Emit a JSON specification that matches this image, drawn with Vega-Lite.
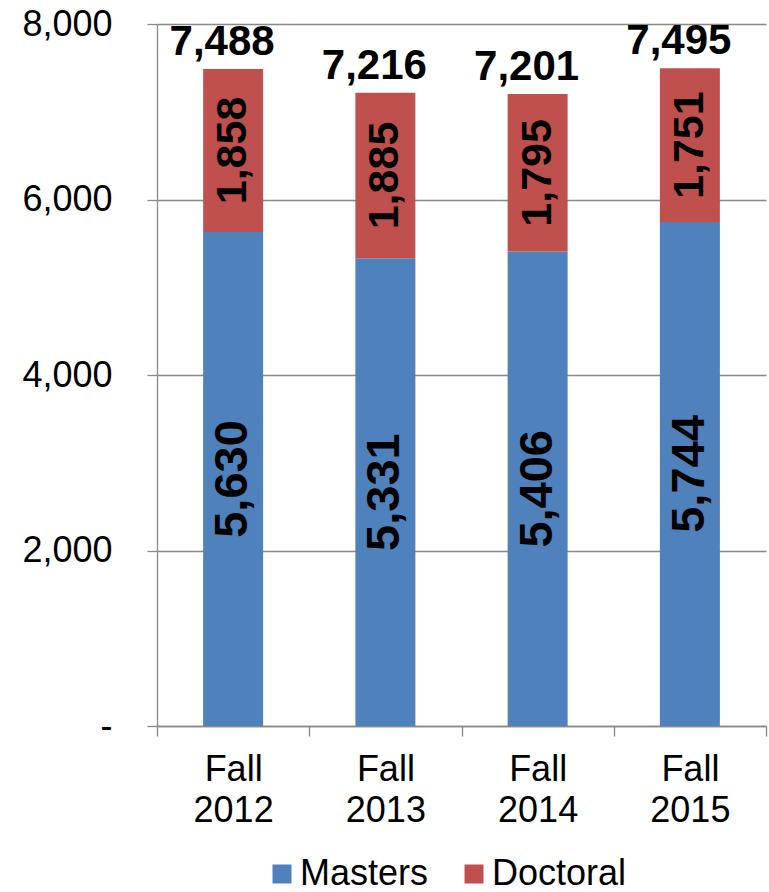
{
  "$schema": "https://vega.github.io/schema/vega-lite/v6.json",
  "width": 609,
  "height": 702,
  "autosize": {"type": "none"},
  "padding": {"left": 157, "top": 24, "right": 3, "bottom": 166},
  "config": {
    "view": {"stroke": null},
    "font": "Liberation Sans",
    "axis": {"labelColor": "#000000", "labelFont": "Liberation Sans", "labelFontSize": 36, "titleFontSize": 0}
  },
  "data": {
    "values": [
      {"year": "Fall 2012", "type": "Masters", "value": 5630},
      {"year": "Fall 2012", "type": "Doctoral", "value": 1858},
      {"year": "Fall 2013", "type": "Masters", "value": 5331},
      {"year": "Fall 2013", "type": "Doctoral", "value": 1885},
      {"year": "Fall 2014", "type": "Masters", "value": 5406},
      {"year": "Fall 2014", "type": "Doctoral", "value": 1795},
      {"year": "Fall 2015", "type": "Masters", "value": 5744},
      {"year": "Fall 2015", "type": "Doctoral", "value": 1751}
    ]
  },
  "layer": [
    {
      "mark": {"type": "bar", "width": {"band": 0.394}},
      "encoding": {
        "x": {
          "field": "year", "type": "nominal", "sort": null,
          "scale": {"paddingInner": 0, "paddingOuter": 0},
          "axis": {
            "title": null, "labelAngle": 0, "grid": false,
            "domainColor": "#898989", "domainWidth": 1.3,
            "tickColor": "#898989", "tickWidth": 1.3, "tickSize": 10, "tickBand": "extent",
            "labelPadding": 16, "labelLineHeight": 41, "labelBaseline": "top",
            "labelExpr": "isString(datum.value) ? split(datum.value, ' ') : ''"
          }
        },
        "y": {
          "field": "value", "type": "quantitative", "stack": "zero",
          "scale": {"domain": [0, 8000], "nice": false},
          "axis": {
            "title": null, "values": [0, 2000, 4000, 6000, 8000],
            "grid": true, "gridColor": "#898989", "gridWidth": 1.3,
            "domainColor": "#898989", "domainWidth": 1.3,
            "tickColor": "#898989", "tickWidth": 1.3, "tickSize": 10,
            "labelPadding": 35,
            "labelExpr": "datum.value == 0 ? '-\u00a0\u00a0' : format(datum.value, ',')"
          }
        },
        "color": {
          "field": "type", "type": "nominal",
          "scale": {"domain": ["Masters", "Doctoral"], "range": ["#4F81BD", "#C0504D"]},
          "legend": {
            "title": null, "orient": "none", "direction": "horizontal",
            "legendX": 107, "legendY": 832,
            "symbolType": "square", "symbolSize": 361, "symbolStrokeWidth": 0,
            "labelFontSize": 36, "labelFont": "Liberation Sans", "labelColor": "#000000",
            "labelOffset": 0, "columnPadding": 27, "labelLimit": 300
          }
        },
        "order": {"field": "type", "sort": "descending"}
      }
    },
    {
      "transform": [
        {"stack": "value", "groupby": ["year"], "sort": [{"field": "type", "order": "descending"}], "as": ["v0", "v1"]},
        {"calculate": "(datum.v0 + datum.v1) / 2", "as": "mid"},
        {"filter": "datum.type == 'Masters'"}
      ],
      "mark": {"type": "text", "angle": 270, "fontSize": 47, "fontWeight": "bold", "font": "Liberation Sans", "baseline": "middle", "align": "center", "color": "#000000"},
      "encoding": {
        "x": {"field": "year", "type": "nominal", "sort": null},
        "y": {"field": "mid", "type": "quantitative"},
        "text": {"field": "value", "type": "quantitative", "format": ","}
      }
    },
    {
      "transform": [
        {"stack": "value", "groupby": ["year"], "sort": [{"field": "type", "order": "descending"}], "as": ["v0", "v1"]},
        {"calculate": "(datum.v0 + datum.v1) / 2", "as": "mid"},
        {"filter": "datum.type == 'Doctoral'"}
      ],
      "mark": {"type": "text", "angle": 270, "fontSize": 43, "fontWeight": "bold", "font": "Liberation Sans", "baseline": "middle", "align": "center", "color": "#000000"},
      "encoding": {
        "x": {"field": "year", "type": "nominal", "sort": null},
        "y": {"field": "mid", "type": "quantitative"},
        "text": {"field": "value", "type": "quantitative", "format": ","}
      }
    },
    {
      "transform": [
        {"aggregate": [{"op": "sum", "field": "value", "as": "total"}], "groupby": ["year"]}
      ],
      "mark": {"type": "text", "fontSize": 42, "fontWeight": "bold", "font": "Liberation Sans", "baseline": "alphabetic", "align": "center", "dy": -14, "dx": -11, "color": "#000000"},
      "encoding": {
        "x": {"field": "year", "type": "nominal", "sort": null},
        "y": {"field": "total", "type": "quantitative"},
        "text": {"field": "total", "type": "quantitative", "format": ","}
      }
    }
  ]
}
